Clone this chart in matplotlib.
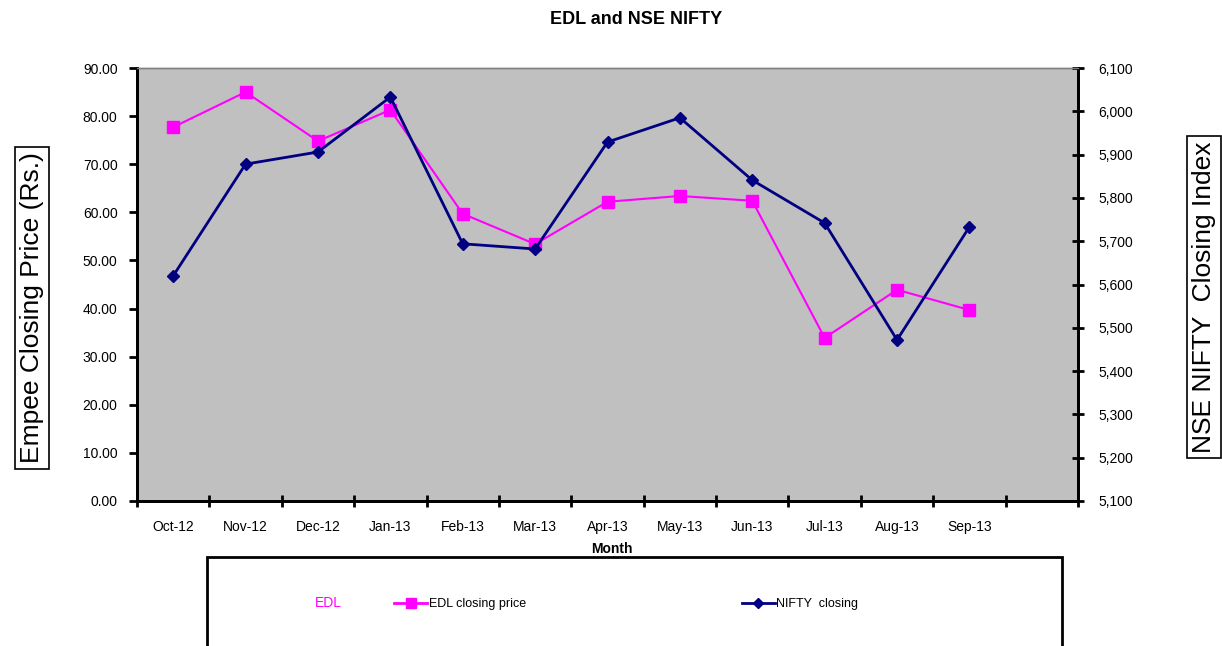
import matplotlib
matplotlib.use('Agg')
import matplotlib.pyplot as plt
from matplotlib.lines import Line2D
from matplotlib.patches import Rectangle
from matplotlib.ticker import FuncFormatter

plt.rcParams['font.family'] = ['Liberation Sans', 'DejaVu Sans']

months = ['Oct-12', 'Nov-12', 'Dec-12', 'Jan-13', 'Feb-13', 'Mar-13',
          'Apr-13', 'May-13', 'Jun-13', 'Jul-13', 'Aug-13', 'Sep-13']
edl_close = [77.7, 85.0, 74.8, 81.3, 59.7, 53.4, 62.2, 63.4, 62.4, 33.9, 43.9, 39.7]
nifty_close = [5620, 5878, 5906, 6033, 5694, 5682, 5929, 5985, 5841, 5742, 5472, 5733]
left_ticks = [0, 10, 20, 30, 40, 50, 60, 70, 80, 90]
right_ticks = [5100, 5200, 5300, 5400, 5500, 5600, 5700, 5800, 5900, 6000, 6100]

PINK = '#FF00FF'
NAVY = '#000080'

fig = plt.figure(figsize=(12.22, 6.46), dpi=100)
ax = fig.add_axes([137/1222, 1-501/646, (1078-137)/1222, (501-68)/646])
ax.set_facecolor('#C0C0C0')

# one extra empty slot on the right like the original
n_slots = len(months) + 1
xs = [i + 0.5 for i in range(len(months))]

ax.plot(xs, edl_close, color=PINK, lw=1.5, marker='s', ms=8, mec=PINK, mfc=PINK)
ax.set_xlim(0, n_slots)
ax.set_ylim(0, 90)
ax.set_yticks(left_ticks)
ax.yaxis.set_major_formatter(FuncFormatter(lambda v, p: '%.2f' % v))

ax.set_xticks(range(n_slots + 1))
ax.set_xticklabels([])
ax.set_xticks(xs, minor=True)
ax.set_xticklabels(months, minor=True)
ax.tick_params(axis='x', which='minor', length=0, pad=14, labelsize=10)
ax.tick_params(axis='x', which='major', direction='inout', length=9, width=2)
ax.tick_params(axis='y', direction='out', length=6, width=2, pad=8, labelsize=10)

ax2 = ax.twinx()
ax2.plot(xs, nifty_close, color=NAVY, lw=2, marker='D', ms=6, mec=NAVY, mfc=NAVY)
ax2.set_ylim(5100, 6100)
ax2.set_yticks(right_ticks)
ax2.yaxis.set_major_formatter(FuncFormatter(lambda v, p: '{:,.0f}'.format(v)))
ax2.tick_params(axis='y', direction='inout', length=9, width=2, pad=10, labelsize=10)

for a in (ax, ax2):
    for s in ('left', 'right', 'bottom'):
        a.spines[s].set_linewidth(2)
        a.spines[s].set_color('black')
    a.spines['top'].set_color('#808080')
    a.spines['top'].set_linewidth(1)

fig.text(636/1222, 1-19/646, 'EDL and NSE NIFTY', ha='center', va='center',
         fontsize=13, fontweight='bold')
fig.text(612/1222, 1-549/646, 'Month', ha='center', va='center',
         fontsize=10, fontweight='bold')

fig.text(32/1222, 1-308/646, 'Empee Closing Price (Rs.)', rotation=90,
         ha='center', va='center', fontsize=19,
         bbox=dict(boxstyle='square,pad=0.2', fc='white', ec='black', lw=1.2))
fig.text(1204/1222, 1-297/646, 'NSE NIFTY  Closing Index', rotation=90,
         ha='center', va='center', fontsize=19,
         bbox=dict(boxstyle='square,pad=0.2', fc='white', ec='black', lw=1.2))

# legend frame (runs off the bottom of the figure)
fig.patches.append(Rectangle((207/1222, -0.05), (1062-207)/1222, (646-557)/646 + 0.05,
                             transform=fig.transFigure, fill=False, ec='black', lw=2))
fig.text(328/1222, 1-603/646, 'EDL', color=PINK, ha='center', va='center', fontsize=10)

handles = [Line2D([], [], color=PINK, lw=2, marker='s', ms=7),
           Line2D([], [], color=NAVY, lw=2, marker='D', ms=5)]
fig.legend(handles, ['EDL closing price', 'NIFTY  closing'], ncol=2, frameon=False,
           loc='center left', bbox_to_anchor=(388/1222, 1-604/646), fontsize=9,
           handlelength=2.6, handletextpad=0.15, columnspacing=17.3, borderpad=0)

fig.savefig('out.png', dpi=100)
